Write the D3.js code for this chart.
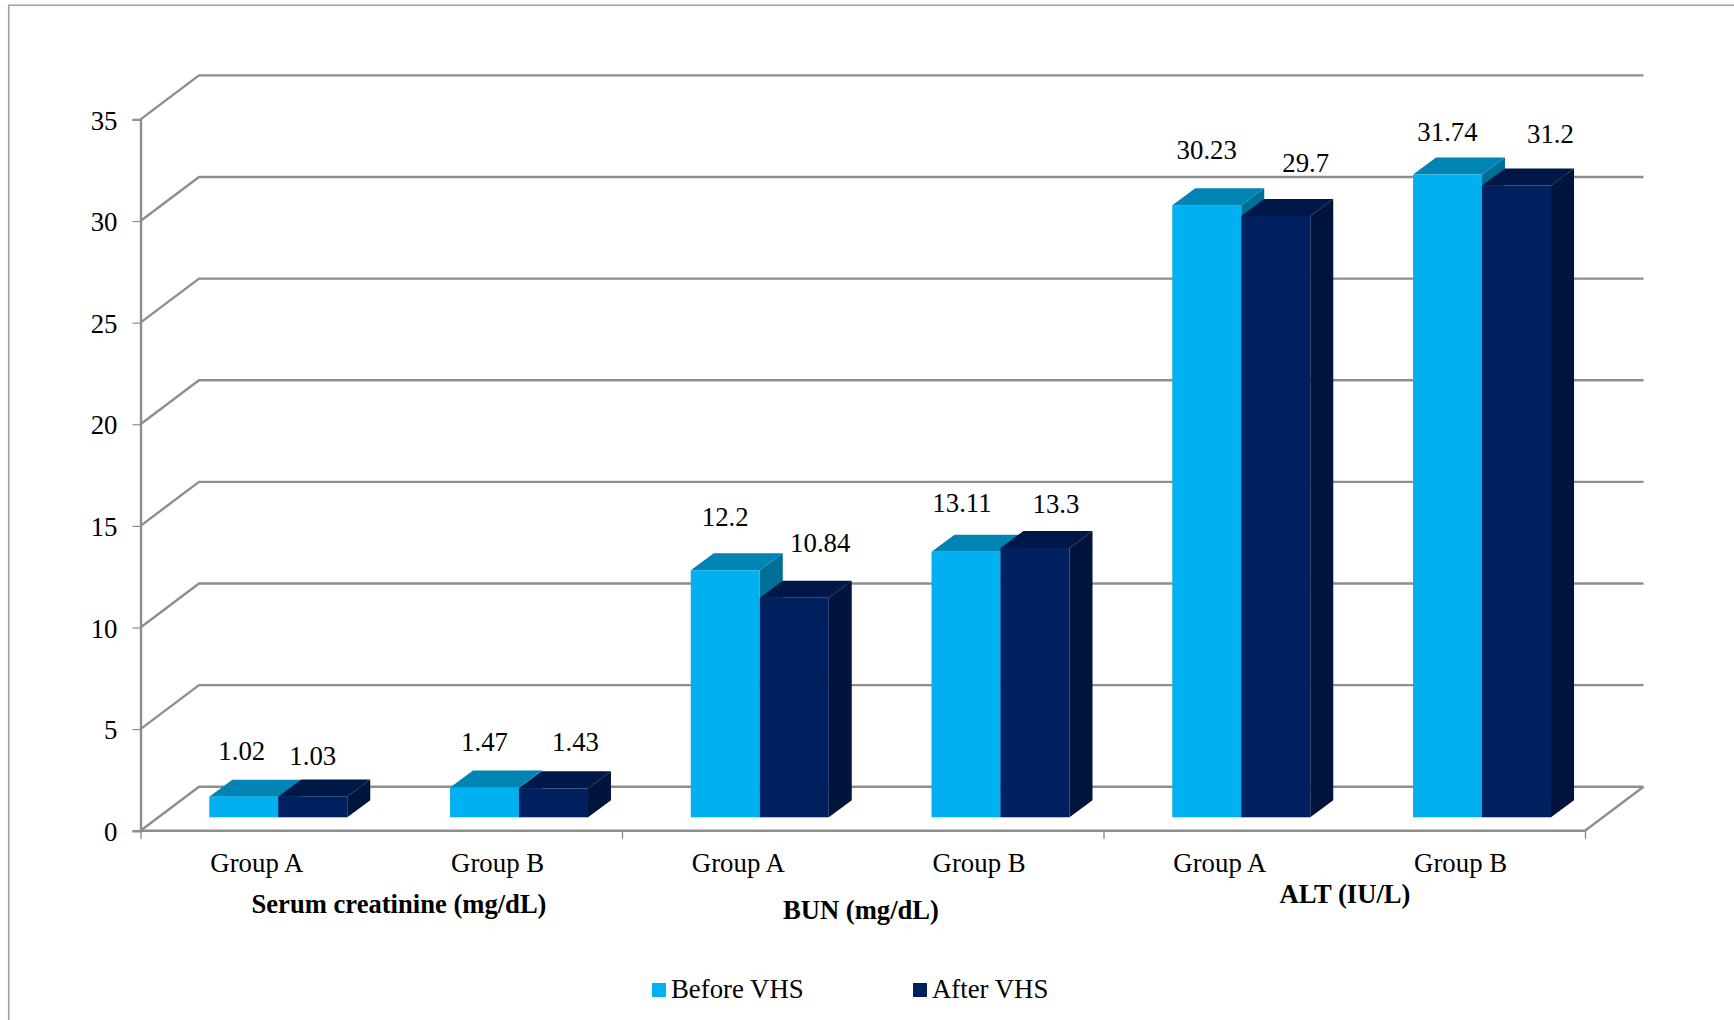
<!DOCTYPE html>
<html>
<head>
<meta charset="utf-8">
<script src="https://cdn.jsdelivr.net/npm/d3@7/dist/d3.min.js"></script>
<style>
  html, body { margin: 0; padding: 0; background: #fff; }
  svg { display: block; }
  text { font-family: "Liberation Serif", "Times New Roman", serif; fill: #000; }
</style>
</head>
<body>
<svg id="chart" width="1734" height="1020"></svg>
<script>
// Chart data
const metrics = ["Serum creatinine (mg/dL)", "BUN (mg/dL)", "ALT (IU/L)"];
const groups = ["Group A", "Group B"];
const seriesNames = ["Before VHS", "After VHS"];
const beforeValues = [1.02, 1.47, 12.2, 13.11, 30.23, 31.74];
const afterValues = [1.03, 1.43, 10.84, 13.3, 29.7, 31.2];
const yTicks = [0, 5, 10, 15, 20, 25, 30, 35];

// Hand-placed label nudges, relative to each bar's top centre
const beforeLabelNudge = [[-2, -43], [0, -43], [0, -50], [-4, -46], [0, -52], [0, -40]];
const afterLabelNudge = [[0, -38], [22, -43], [26, -52], [21, -41], [30, -50], [34, -49]];
const metricTitleY = [913, 919, 903];
const metricTitleX = [399, 861, 1345];

const seriesColours = [
  { front: "#00b0f0", top: "#0084b4", side: "#006f98" },
  { front: "#002060", top: "#001848", side: "#00143c" }
];

const svg = d3.select("#chart");
const gridColour = "#8e8e8e";
const fontSize = 26.8;

// Projection of the 3D box: plot depth and bar depth
const depth = { dx: 58.5, dy: -44 };
const barDepth = { dx: 23, dy: -17 };
const barShiftX = 17.4;
const barBase = 817.3;
const barUnit = 20.25;

const left = 140.5, right = 1585;
const y = d3.scaleLinear().domain([0, 35]).range([830.7, 119.4]);
// Bars stand slightly in front of the back wall, on their own baseline
const yBar = d3.scaleLinear().domain([0, 35]).range([barBase, barBase - 35 * barUnit]);

const rows = d3.cross(metrics, groups).map(([metric, group], i) => ({
  key: i, metric, group, before: beforeValues[i], after: afterValues[i]
}));
const x0 = d3.scaleBand().domain(rows.map(d => d.key)).range([left, right]);
const x1 = d3.scaleBand().domain(seriesNames).range([0, 138]);
const boundary = d3.scaleLinear().domain([0, metrics.length]).range([left, right]);

// Outer frame: left and top edges only, running off the page
svg.append("path")
  .attr("d", "M8.7,1020V5.3H1734")
  .attr("fill", "none")
  .attr("stroke", "#a0a0a0")
  .attr("stroke-width", 1.6);

// Gridlines on the side wall and the back wall
const grid = svg.append("g").attr("fill", "none").attr("stroke", gridColour).attr("stroke-width", 2.4);
grid.selectAll("path").data(yTicks).join("path")
  .attr("d", v => d3.line()([
    [left, y(v)],
    [left + depth.dx, y(v) + depth.dy],
    [right + depth.dx, y(v) + depth.dy]
  ]));
// Floor front edge and right edge
grid.append("path")
  .attr("d", d3.line()([
    [left, y(0)],
    [right, y(0)],
    [right + depth.dx, y(0) + depth.dy]
  ]));

// Value axis
const yAxis = d3.axisLeft(y).tickValues(yTicks).tickSize(8).tickPadding(15).tickFormat(d3.format("d"));
const yG = svg.append("g").attr("transform", `translate(${left},0)`).call(yAxis);
yG.select(".domain").attr("stroke", gridColour).attr("stroke-width", 2.4);
yG.selectAll(".tick line").attr("stroke", gridColour).attr("stroke-width", 1.2);
yG.selectAll(".tick text").attr("font-size", fontSize).attr("font-family", null).attr("dy", "0.36em");

// Category axis with ticks at the metric boundaries
const xAxis = d3.axisBottom(boundary).tickValues(d3.range(metrics.length + 1)).tickSize(8).tickFormat("");
const xG = svg.append("g").attr("transform", `translate(0,${y(0)})`).call(xAxis);
xG.select(".domain").remove();
xG.selectAll(".tick line").attr("stroke", gridColour).attr("stroke-width", 1.4);

// Extruded bars
function drawBar(g, name, value, colours) {
  const w = x1.bandwidth();
  const bx = x1(name);
  const top = yBar(value);
  const base = yBar(0);
  const { dx, dy } = barDepth;
  g.append("path").attr("fill", colours.side)
    .attr("d", d3.line()([[bx + w, top], [bx + w + dx, top + dy], [bx + w + dx, base + dy], [bx + w, base]]) + "Z");
  g.append("path").attr("fill", colours.top)
    .attr("d", d3.line()([[bx, top], [bx + dx, top + dy], [bx + w + dx, top + dy], [bx + w, top]]) + "Z");
  g.append("rect").attr("fill", colours.front)
    .attr("x", bx).attr("y", top).attr("width", w).attr("height", base - top);
}

const cluster = svg.selectAll(".cluster").data(rows).join("g")
  .attr("class", "cluster")
  .attr("transform", d => `translate(${x0(d.key) + x0.bandwidth() / 2 + barShiftX - x1.step()},0)`);

cluster.each(function (d) {
  const g = d3.select(this);
  drawBar(g, seriesNames[0], d.before, seriesColours[0]);
  drawBar(g, seriesNames[1], d.after, seriesColours[1]);
});

// Data labels
cluster.append("text")
  .attr("text-anchor", "middle").attr("font-size", fontSize).attr("dominant-baseline", "middle")
  .attr("x", d => x1(seriesNames[0]) + x1.bandwidth() / 2 + beforeLabelNudge[d.key][0])
  .attr("y", d => yBar(d.before) + beforeLabelNudge[d.key][1])
  .text(d => d.before);
cluster.append("text")
  .attr("text-anchor", "middle").attr("font-size", fontSize).attr("dominant-baseline", "middle")
  .attr("x", d => x1(seriesNames[1]) + x1.bandwidth() / 2 + afterLabelNudge[d.key][0])
  .attr("y", d => yBar(d.after) + afterLabelNudge[d.key][1])
  .text(d => d.after);

// Category labels
svg.selectAll(".group-label").data(rows).join("text")
  .attr("class", "group-label")
  .attr("text-anchor", "middle").attr("font-size", fontSize)
  .attr("x", d => x0(d.key) + x0.bandwidth() / 2 - 4)
  .attr("y", 871.5)
  .text(d => d.group);

svg.selectAll(".metric-label").data(metrics).join("text")
  .attr("class", "metric-label")
  .attr("text-anchor", "middle").attr("font-size", 26.6).attr("font-weight", "bold")
  .attr("x", (d, i) => metricTitleX[i])
  .attr("y", (d, i) => metricTitleY[i])
  .text(d => d);

// Legend
const legendX = [652, 913];
const legend = svg.selectAll(".legend").data(seriesNames).join("g")
  .attr("class", "legend")
  .attr("transform", (d, i) => `translate(${legendX[i]},983)`);
legend.append("rect").attr("width", 14).attr("height", 14)
  .attr("fill", (d, i) => seriesColours[i].front);
legend.append("text").attr("x", 19).attr("y", 15).attr("font-size", fontSize).text(d => d);
</script>
</body>
</html>
